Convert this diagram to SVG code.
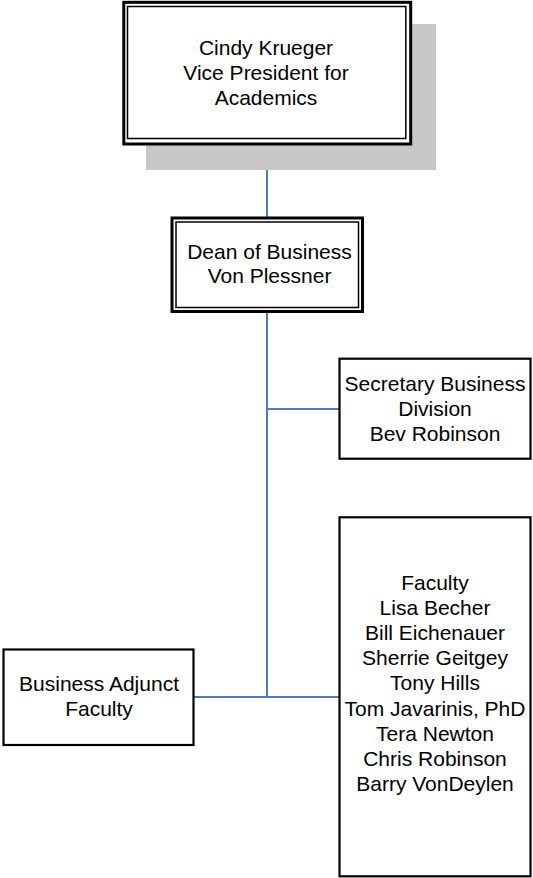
<svg xmlns="http://www.w3.org/2000/svg" width="533" height="878" viewBox="0 0 533 878">
<style>
.t{font-family:"Liberation Sans",Arial,sans-serif;font-size:21px;fill:#000;text-anchor:middle}
.b{fill:#fff;stroke:#000;stroke-width:2.2}
.o{fill:#fff;stroke:#000;stroke-width:3}
.i{fill:none;stroke:#000;stroke-width:1.5}
.c{fill:none;stroke:#4a7ebb;stroke-width:2}
</style>
<rect width="533" height="878" fill="#fff"/>
<g id="connectors">
<line class="c" x1="267" y1="145" x2="267" y2="218"/>
<line class="c" x1="267" y1="312" x2="267" y2="697"/>
<line class="c" x1="267" y1="409" x2="339" y2="409"/>
<line class="c" x1="194" y1="697" x2="339" y2="697"/>
</g>
<g id="vp">
<rect x="146" y="24" width="290" height="146" fill="#c8c8c8"/>
<rect class="o" x="123.8" y="2.3" width="286.9" height="141.7"/>
<rect class="i" x="127.5" y="6.5" width="278.3" height="132"/>
<text class="t" x="266" y="55">Cindy Krueger</text>
<text class="t" x="266" y="80">Vice President for</text>
<text class="t" x="266" y="105">Academics</text>
</g>
<g id="dean">
<rect class="o" x="172" y="218" width="190.5" height="93.5"/>
<rect class="i" x="176" y="222" width="182.5" height="85.5"/>
<text class="t" x="269.5" y="258.5">Dean of Business</text>
<text class="t" x="269.5" y="283">Von Plessner</text>
</g>
<g id="secretary">
<rect class="b" x="339.5" y="358.7" width="191" height="100"/>
<text class="t" x="435" y="391">Secretary Business</text>
<text class="t" x="435" y="416">Division</text>
<text class="t" x="435" y="441">Bev Robinson</text>
</g>
<g id="adjunct">
<rect class="b" x="3.5" y="649.5" width="190" height="95.5"/>
<text class="t" x="99" y="691">Business Adjunct</text>
<text class="t" x="99" y="716">Faculty</text>
</g>
<g id="faculty">
<rect class="b" x="339.5" y="517.3" width="191" height="359"/>
<text class="t" x="435" y="589.5">Faculty</text>
<text class="t" x="435" y="614.7">Lisa Becher</text>
<text class="t" x="435" y="639.9">Bill Eichenauer</text>
<text class="t" x="435" y="665.1">Sherrie Geitgey</text>
<text class="t" x="435" y="690.3">Tony Hills</text>
<text class="t" x="435" y="715.5">Tom Javarinis, PhD</text>
<text class="t" x="435" y="740.7">Tera Newton</text>
<text class="t" x="435" y="765.9">Chris Robinson</text>
<text class="t" x="435" y="791.1">Barry VonDeylen</text>
</g>
</svg>
